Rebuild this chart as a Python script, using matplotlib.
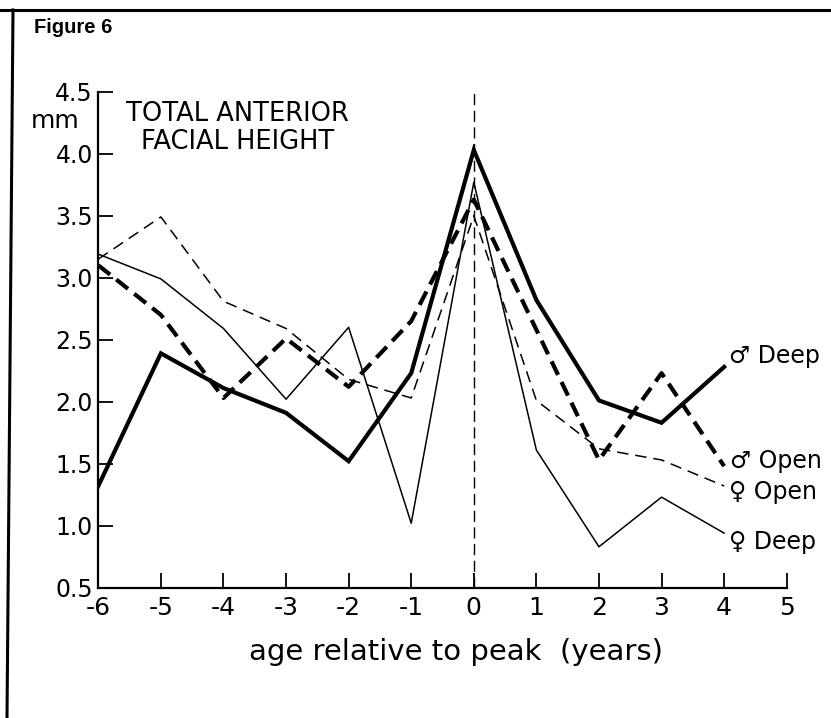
import numpy as np
import matplotlib
matplotlib.use("Agg")
import matplotlib.pyplot as plt
from matplotlib.lines import Line2D

plt.rcParams['font.family'] = ['DejaVu Sans']
plt.rcParams['axes.unicode_minus'] = False

# age relative to peak (years)
ages = [-6, -5, -4, -3, -2, -1, 0, 1, 2, 3, 4]

# increments in mm
male_deep = [1.32, 2.39, 2.11, 1.91, 1.52, 2.23, 4.03, 2.82, 2.01, 1.83, 2.28]
male_open = [3.10, 2.70, 2.03, 2.51, 2.12, 2.65, 3.63, 2.58, 1.53, 2.23, 1.48]
female_open = [3.15, 3.49, 2.81, 2.59, 2.18, 2.03, 3.50, 2.01, 1.62, 1.53, 1.32]
female_deep = [3.19, 2.99, 2.59, 2.02, 2.60, 1.02, 3.77, 1.61, 0.83, 1.23, 0.94]

xticks = [-6, -5, -4, -3, -2, -1, 0, 1, 2, 3, 4, 5]
xtick_labels = ['-6', '-5', '-4', '-3', '-2', '-1', '0', '1', '2', '3', '4', '5']
yticks = [0.5, 1.0, 1.5, 2.0, 2.5, 3.0, 3.5, 4.0, 4.5]
ytick_labels = ['0.5', '1.0', '1.5', '2.0', '2.5', '3.0', '3.5', '4.0', '4.5']

fig = plt.figure(figsize=(8.31, 7.18), dpi=100)
ax = fig.add_axes([0.1183, 0.1815, 0.8284, 0.6908])

ax.plot(ages, male_deep, color='black', lw=3.0, solid_joinstyle='miter')
ax.plot(ages, male_open, color='black', lw=3.0, ls=(0, (3.6, 1.9)))
ax.plot(ages, female_open, color='black', lw=1.1, ls=(0, (7.5, 4.5)))
ax.plot(ages, female_deep, color='black', lw=1.1)

# peak line
ax.plot([0, 0], [0.5, 4.5], color='black', lw=1.0, ls=(0, (8, 4)))

ax.set_xlim(-6, 5)
ax.set_ylim(0.5, 4.5)
ax.set_xticks(xticks)
ax.set_xticklabels(xtick_labels)
ax.set_yticks(yticks)
ax.set_yticklabels(ytick_labels)
ax.tick_params(direction='in', length=11, width=1.3)
ax.tick_params(axis='x', labelsize=18, pad=6)
ax.tick_params(axis='y', labelsize=17, pad=4)
for side in ['top', 'right']:
    ax.spines[side].set_visible(False)
for side in ['left', 'bottom']:
    ax.spines[side].set_linewidth(1.6)

ax.text(456 / 831, 1 - 652 / 718, 'age relative to peak  (years)', fontsize=21,
        ha='center', va='center', transform=fig.transFigure)

ax.text(-7.08, 4.26, 'mm', fontsize=18, ha='left', va='center')
ax.text(-3.78, 4.21, 'TOTAL ANTERIOR\nFACIAL HEIGHT', fontsize=18.5,
        ha='center', va='center', linespacing=1.1)

# end labels
ax.text(4.07, 2.37, '\u2642 Deep', fontsize=17, ha='left', va='center')
ax.text(4.10, 1.52, '\u2642 Open', fontsize=17, ha='left', va='center')
ax.text(4.07, 1.27, '\u2640 Open', fontsize=17, ha='left', va='center')
ax.text(4.07, 0.87, '\u2640 Deep', fontsize=17, ha='left', va='center')

# page frame and figure number
fig.add_artist(Line2D([0, 1], [1 - 10 / 718, 1 - 10 / 718], color='black', lw=2.2,
                      transform=fig.transFigure))
fig.add_artist(Line2D([13 / 831, 7 / 831], [1 - 10 / 718, 0], color='black', lw=2.2,
                      transform=fig.transFigure))
fig.text(34 / 831, 1 - 33 / 718, 'Figure 6', fontsize=14.5, fontweight='bold',
         family=['Liberation Sans', 'DejaVu Sans'], ha='left', va='baseline')

fig.savefig('out.png', dpi=100)
